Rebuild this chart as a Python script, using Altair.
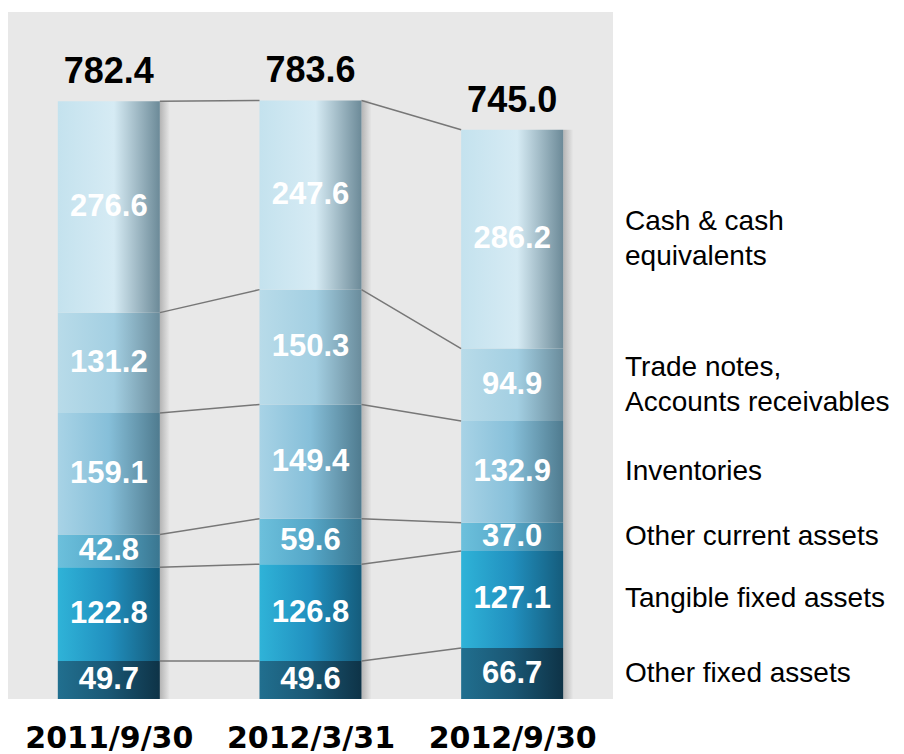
import altair as alt
import pandas as pd

periods = ["2011/9/30", "2012/3/31", "2012/9/30"]
segments = ["Other fixed assets", "Tangible fixed assets", "Other current assets",
            "Inventories", "Trade notes,\nAccounts receivables", "Cash & cash\nequivalents"]
other_fixed = [49.7, 49.6, 66.7]
tangible_fixed = [122.8, 126.8, 127.1]
other_current = [42.8, 59.6, 37.0]
inventories = [159.1, 149.4, 132.9]
trade_notes = [131.2, 150.3, 94.9]
cash = [276.6, 247.6, 286.2]
totals = [782.4, 783.6, 745.0]

series = [other_fixed, tangible_fixed, other_current, inventories, trade_notes, cash]

stops = [
    [("#216f8f", 0), ("#1a5774", 0.5), ("#0e3347", 1)],
    [("#2fb3d8", 0), ("#2190bf", 0.5), ("#155c7c", 1)],
    [("#6cc0dc", 0), ("#55a7c8", 0.5), ("#3a7690", 1)],
    [("#a8d3e6", 0), ("#86bfd9", 0.5), ("#4f7b8f", 1)],
    [("#b8dbe9", 0), ("#a3cfe2", 0.55), ("#6a8c9c", 1)],
    [("#c4e2ee", 0), ("#d6ebf4", 0.55), ("#6c8a98", 1)],
]

HW = 0.253  # half bar width in x units

rows = []
for pi, p in enumerate(periods):
    cum = 0.0
    for si, s in enumerate(segments):
        v = series[si][pi]
        rows.append(dict(period=p, pos=pi, seg=s, si=si, value=v,
                         lo=cum, hi=cum + v, mid=cum + v / 2,
                         left=pi - HW, right=pi + HW,
                         label=f"{v:.1f}", multi=("\n" in s)))
        cum += v
df = pd.DataFrame(rows)

lines = []
for pi in range(len(periods) - 1):
    a = df[df.pos == pi].reset_index(drop=True)
    b = df[df.pos == pi + 1].reset_index(drop=True)
    for si in range(len(segments)):
        lines.append(dict(x1=pi + HW, x2=pi + 1 - HW, y1=a.hi[si], y2=b.hi[si]))
ldf = pd.DataFrame(lines)

tdf = pd.DataFrame(dict(pos=list(range(len(periods))), total=totals,
                        label=[f"{t:.1f}" for t in totals],
                        sh_l=[i + HW for i in range(len(periods))],
                        sh_r=[i + HW + 0.05 for i in range(len(periods))]))

xscale = alt.Scale(domain=[-0.5, 2.5], nice=False, zero=False)
yscale = alt.Scale(domain=[0, 899], nice=False)

label_expr = "[" + ",".join(f"'{p}'" for p in periods) + "][datum.value]"

base_x_axis = alt.Axis(values=[0, 1, 2], labelExpr=label_expr, domain=False, ticks=False,
                       grid=False, labelFont="DejaVu Sans", labelFontWeight="bold",
                       labelFontSize=30, labelColor="#000000", labelPadding=24, title=None)

shadow = alt.Chart(tdf).mark_bar(
    fill=alt.Gradient(gradient="linear",
                      stops=[alt.GradientStop(color="#b4b4b4", offset=0),
                             alt.GradientStop(color="#e8e8e8", offset=1)],
                      x1=0, x2=1, y1=0, y2=0)
).encode(
    x=alt.X("sh_l:Q", scale=xscale, axis=base_x_axis),
    x2="sh_r:Q",
    y=alt.Y("total:Q", scale=yscale, axis=None),
    y2=alt.datum(0),
)

layers = [shadow]
for si, s in enumerate(segments):
    grad = alt.Gradient(gradient="linear",
                        stops=[alt.GradientStop(color=c, offset=o) for c, o in stops[si]],
                        x1=0, x2=1, y1=0, y2=0)
    layers.append(
        alt.Chart(df[df.si == si]).mark_bar(fill=grad).encode(
            x=alt.X("left:Q", scale=xscale),
            x2="right:Q",
            y=alt.Y("lo:Q", scale=yscale),
            y2="hi:Q",
        )
    )

rules = alt.Chart(ldf).mark_rule(color="#777777", strokeWidth=1.5).encode(
    x=alt.X("x1:Q", scale=xscale), x2="x2:Q",
    y=alt.Y("y1:Q", scale=yscale), y2="y2:Q",
)

seg_labels = alt.Chart(df).mark_text(
    font="Liberation Sans", fontWeight="bold", fontSize=31, color="white",
    align="center", baseline="middle"
).encode(
    x=alt.X("pos:Q", scale=xscale),
    y=alt.Y("mid:Q", scale=yscale),
    text="label:N",
)

total_labels = alt.Chart(tdf).mark_text(
    font="Liberation Sans", fontWeight="bold", fontSize=36, color="black",
    align="center", baseline="middle", dy=-29
).encode(
    x=alt.X("pos:Q", scale=xscale),
    y=alt.Y("total:Q", scale=yscale),
    text="label:N",
)

last = df[df.pos == len(periods) - 1]
legend_single = alt.Chart(last[~last.multi]).mark_text(
    font="Liberation Sans", fontSize=28, color="black", align="left",
    baseline="middle"
).encode(
    x=alt.value(617),
    y=alt.Y("mid:Q", scale=yscale),
    text="seg:N",
)
legend_multi = alt.Chart(last[last.multi]).mark_text(
    font="Liberation Sans", fontSize=28, color="black", align="left",
    baseline="middle", lineBreak="\n", lineHeight=35, dy=-17
).encode(
    x=alt.value(617),
    y=alt.Y("mid:Q", scale=yscale),
    text="seg:N",
)

chart = alt.layer(*layers, rules, seg_labels, total_labels, legend_single, legend_multi).properties(
    width=605, height=687,
    padding={"left": 0, "top": 4, "right": 5, "bottom": 5},
    background="white",
).configure_view(fill="#e8e8e8", stroke=None)

chart.save("out.html", embed_options={"renderer": "svg", "actions": False})
